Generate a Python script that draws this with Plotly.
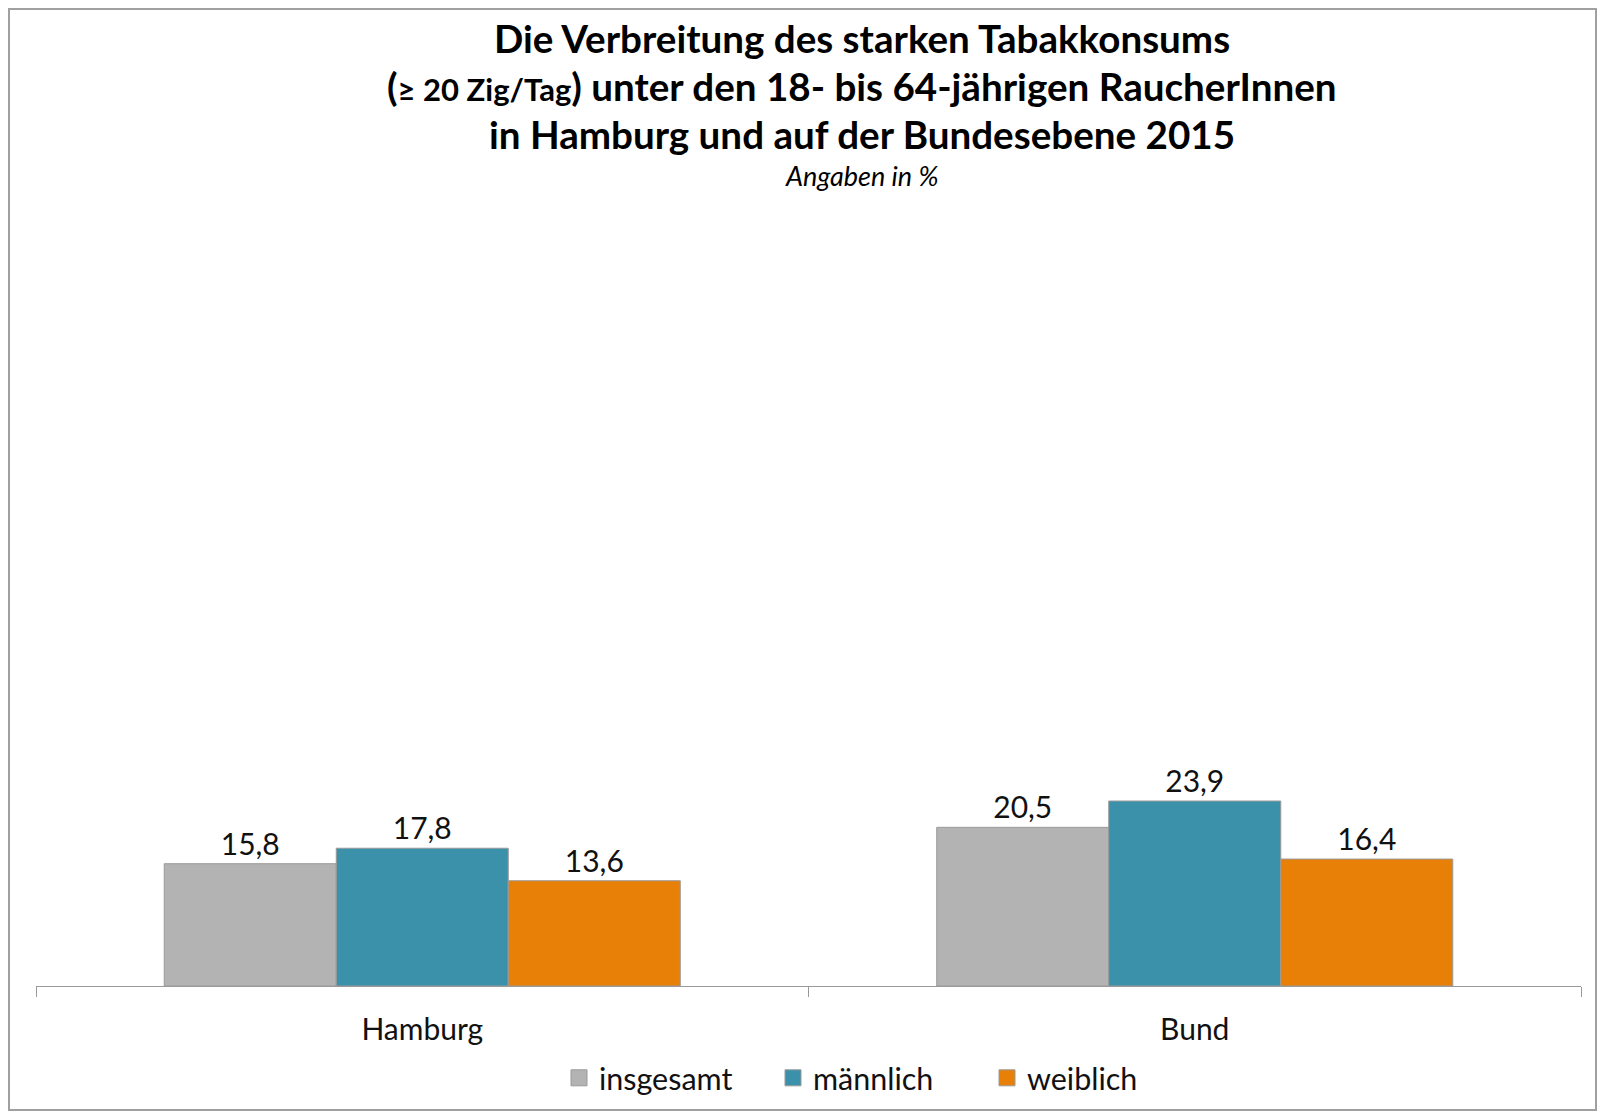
import plotly.graph_objects as go

categories = ["Hamburg", "Bund"]
series_names = ["insgesamt", "männlich", "weiblich"]
insgesamt = [15.8, 20.5]
maennlich = [17.8, 23.9]
weiblich = [13.6, 16.4]
values = [insgesamt, maennlich, weiblich]
colors = ["#b3b3b3", "#3b91aa", "#e87f06"]
title_lines = [
    "Die Verbreitung des starken Tabakkonsums",
    "(<span style='font-size:31px'>≥ 20 Zig/Tag</span>) unter den 18- bis 64-jährigen RaucherInnen",
    "in Hamburg und auf der Bundesebene 2015",
]
subtitle = "Angaben in %"

# figure sits at page offset (8, 8)
W, H = 1589, 1103
L, R, T, B = 28, 16, 204, 125
pw = W - L - R
ph = H - T - B

def px_x(x):
    return (x - L) / pw

def px_y(y):
    return (H - B - y) / ph

FONT = "Lato"

fig = go.Figure()
for name, vals, col in zip(series_names, values, colors):
    fig.add_trace(go.Bar(
        x=categories, y=vals, name=name,
        marker=dict(color=col, line=dict(color="#9a9a9a", width=1)),
        texttemplate="%{y:.1f}", textposition="outside",
        textfont=dict(family=FONT, size=30, color="#111"),
        cliponaxis=False, showlegend=False,
    ))
for name, col in zip(series_names, colors):
    fig.add_trace(go.Scatter(
        x=[None], y=[None], mode="markers", name=name,
        marker=dict(symbol="square", size=18, color=col, line=dict(color="#9a9a9a", width=1)),
    ))

annotations = []
for line, py in zip(title_lines, [30, 78, 126]):
    annotations.append(dict(
        text="<b>" + line + "</b>", x=px_x(854), y=px_y(py), xref="paper", yref="paper",
        xanchor="center", yanchor="middle", showarrow=False,
        font=dict(family=FONT, size=38.6, color="#000"),
    ))
annotations.append(dict(
    text="<i>" + subtitle + "</i>", x=px_x(854), y=px_y(167), xref="paper", yref="paper",
    xanchor="center", yanchor="middle", showarrow=False,
    font=dict(family=FONT, size=27, color="#000"),
))

fig.update_layout(
    width=W, height=H,
    margin=dict(l=L, r=R, t=T, b=B, autoexpand=False),
    paper_bgcolor="white", plot_bgcolor="white",
    separators=",.",
    barmode="group", bargap=0.332, bargroupgap=0,
    annotations=annotations,
    shapes=[dict(type="rect", xref="paper", yref="paper",
                 x0=px_x(1), x1=px_x(W - 1), y0=px_y(H - 1), y1=px_y(1),
                 line=dict(color="#a0a0a0", width=2), fillcolor="rgba(0,0,0,0)", layer="below")],
    legend=dict(orientation="h", x=px_x(551), y=px_y(1070), xanchor="left", yanchor="middle",
                font=dict(family=FONT, size=30.5, color="#111"), entrywidth=169,
                itemclick=False, bgcolor="rgba(0,0,0,0)"),
    showlegend=True,
    xaxis=dict(showline=True, linecolor="#9a9a9a", linewidth=1, ticks="outside", ticklen=10,
               tickcolor="#9a9a9a", tickson="boundaries", showgrid=False,
               tickfont=dict(family=FONT, size=30, color="#111"), ticklabelstandoff=17),
    yaxis=dict(visible=False, range=[0, 100], showgrid=False, zeroline=False),
)

fig.write_html("out.html")
